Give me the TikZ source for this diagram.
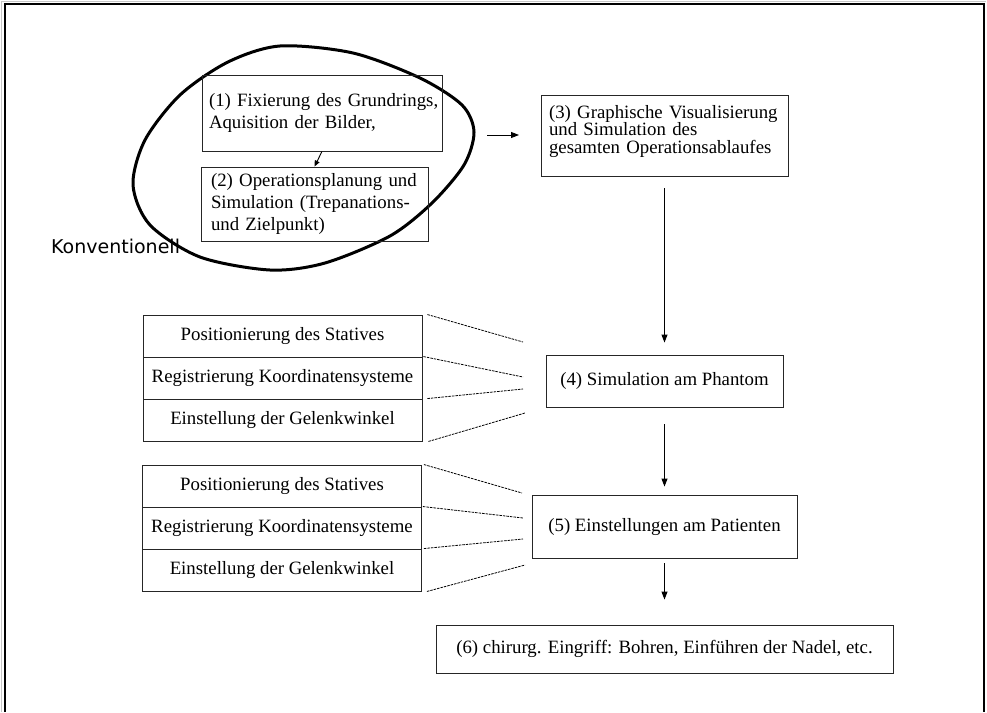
\documentclass[tikz,border=0pt]{standalone}
\usepackage{fontspec}
\setmainfont{Liberation Serif}
\newfontfamily\konvfont{DejaVu Sans}
\usetikzlibrary{arrows.meta,calc}
\tikzset{
  box/.style={draw=black!85, line width=0.9pt, inner ysep=0pt, font=\fontsize{18.8}{20.7}\selectfont},
  lrow/.style={box, minimum width=279, minimum height=42, inner sep=0pt, align=center},
  arr/.style={-{Triangle[length=8pt,width=6pt]}, line width=0.9pt},
  dots/.style={line width=0.8pt, dash pattern=on 2.5pt off 1pt}
}
\begin{document}
\begin{tikzpicture}[x=1pt,y=-1pt]
\useasboundingbox (0,0) rectangle (987,712);
% frame
\draw[gray!45, line width=1pt] (1,712) -- (1,1) -- (986,1);
\draw[line width=2pt] (4.5,712) -- (4.5,4) -- (984,4) -- (984,712);

% ellipse "Konventionell"
\draw[line width=3pt] plot[smooth cycle] coordinates {
  (280,46) (353,53) (420,78) (462,105) (474,132) (464,165) (432,203)
  (390,236) (325,263) (270,270) (200,257) (150,225) (133,185) (145,140)
  (180,95) (228,62)};
\node[font=\konvfont\fontsize{19}{20}\selectfont, anchor=base west, inner sep=0pt] (konv) at (51,253) {Konventionell};

% main boxes
\node[box, font=\fontsize{18.8}{21.5}\selectfont, minimum width=240, minimum height=76, text width=234, inner xsep=3, align=left] (b1) at (322,113)
  {\hspace*{4pt}(1) Fixierung des Grundrings,\\[1pt] \hspace*{4pt}Aquisition der Bilder,};
\node[box, font=\fontsize{18.8}{21.8}\selectfont, minimum width=227, minimum height=74, text width=215, inner xsep=6, align=left] (b2) at (314.5,204)
  {\hspace*{4pt}(2) Operationsplanung und\\ \hspace*{4pt}Simulation (Trepanations-\\ \hspace*{4pt}und Zielpunkt)};
\node[box, font=\fontsize{18.8}{17.4}\selectfont, minimum width=247, minimum height=81, text width=237, inner xsep=5, align=left] (b3) at (664.5,135.5)
  {\hspace*{3pt}(3) Graphische Visualisierung\\ \hspace*{3pt}und Simulation des\\ \hspace*{3pt}gesamten Operationsablaufes\\[-5pt]\mbox{}};
\node[box, minimum width=237, minimum height=52, align=center] (b4) at (664.5,381) {(4) Simulation am Phantom};
\node[box, minimum width=265, minimum height=63, align=center] (b5) at (664.5,526.5) {(5) Einstellungen am Patienten};
\node[box, minimum width=457, minimum height=48, align=center] (b6) at (664.5,649) {(6) chirurg. Eingriff: Bohren, Einführen der Nadel, etc.};

% left groups
\node[lrow] (pa1) at (282.5,336) {Positionierung des Statives};
\node[lrow] (pa2) at (282.5,378) {Registrierung Koordinatensysteme};
\node[lrow] (pa3) at (282.5,420) {Einstellung der Gelenkwinkel};
\node[lrow] (pb1) at (282,486) {Positionierung des Statives};
\node[lrow] (pb2) at (282,528) {Registrierung Koordinatensysteme};
\node[lrow] (pb3) at (282,570) {Einstellung der Gelenkwinkel};

% dotted fan lines
\coordinate (da1) at (523,342);
\coordinate (da2) at (523,377);
\coordinate (da3) at (523,389);
\coordinate (da4) at (525,413);
\coordinate (db1) at (522,493);
\coordinate (db2) at (523,518);
\coordinate (db3) at (523,539);
\coordinate (db4) at (525,565);
\draw[dots] ($(pa1.north east)+(5,0)$) -- (da1);
\draw[dots] ($(pa2.north east)+(1,0)$) -- (da2);
\draw[dots] ($(pa3.north east)+(5,0)$) -- (da3);
\draw[dots] ($(pa3.south east)+(6,0)$) -- (da4);
\draw[dots] ($(pb1.north east)+(2,0)$) -- (db1);
\draw[dots] ($(pb2.north east)+(1,0)$) -- (db2);
\draw[dots] ($(pb3.north east)+(2,0)$) -- (db3);
\draw[dots] ($(pb3.south east)+(5,0)$) -- (db4);

% arrows
\draw[line width=0.9pt, -{Triangle[length=6pt,width=5pt]}] (b1.south) -- (b2.north);
\coordinate (c13s) at (487,135);
\coordinate (c13e) at (519,135);
\draw[arr] (c13s) -- (c13e);
\draw[arr, shorten <=12pt, shorten >=12pt] (b3.south) -- (b4.north);
\draw[arr, shorten <=17pt, shorten >=8pt] (b4.south) -- (b5.north);
\draw[arr, shorten <=5pt, shorten >=25pt] (b5.south) -- (b6.north);
\end{tikzpicture}
\end{document}
